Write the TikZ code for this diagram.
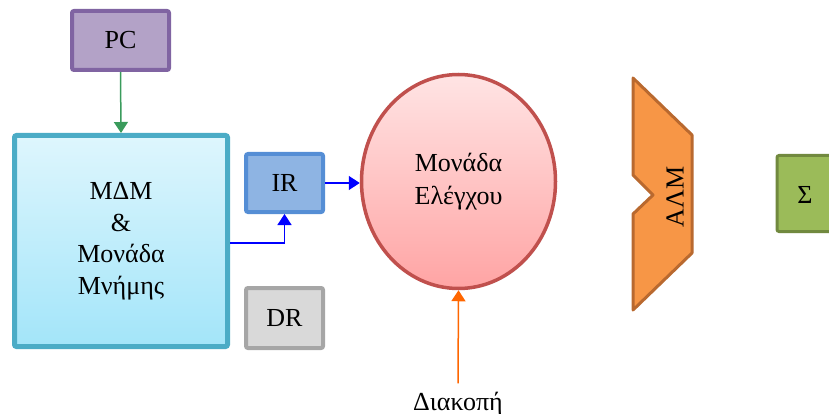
\documentclass[tikz,border=0pt]{standalone}
\usepackage{fontspec}
\setmainfont{Liberation Serif}
\usetikzlibrary{arrows.meta,shadows,shapes.geometric}

\definecolor{pcfill}{HTML}{B3A2C7}
\definecolor{pcline}{HTML}{8064A2}
\definecolor{memline}{HTML}{4BACC6}
\definecolor{memtop}{HTML}{DEF6FD}
\definecolor{membot}{HTML}{A3E5F9}
\definecolor{irfill}{HTML}{8EB4E3}
\definecolor{irline}{HTML}{558ED5}
\definecolor{drfill}{HTML}{D9D9D9}
\definecolor{drline}{HTML}{A6A6A6}
\definecolor{culine}{HTML}{C0504D}
\definecolor{cutop}{HTML}{FFE4E4}
\definecolor{cubot}{HTML}{FFA4A4}
\definecolor{alufill}{HTML}{F79646}
\definecolor{aluline}{HTML}{B9692F}
\definecolor{accfill}{HTML}{9BBB59}
\definecolor{accline}{HTML}{71893F}
\definecolor{pcarrow}{HTML}{3A9B5C}
\definecolor{busblue}{HTML}{0000FF}
\definecolor{intorange}{HTML}{FF6600}

\tikzset{
  unit/.style={rectangle, rounded corners=2pt, inner sep=0pt,
    font=\fontsize{26}{31.5}\selectfont, align=center,
    drop shadow={opacity=0.18, shadow xshift=1pt, shadow yshift=-1.5pt}},
  link/.style={line width=1.5pt, -{Triangle[length=11pt,width=14pt]}},
  caption/.style={font=\fontsize{26}{31.5}\selectfont, inner sep=2pt}
}

\begin{document}
\begin{tikzpicture}[x=1pt, y=-1pt]
  \clip (0,0) rectangle (829,414);

  % registers and memory
  \node[unit, draw=pcline, line width=4pt, fill=pcfill,
        minimum width=97pt, minimum height=59pt] (pc) at (120.5,40.5) {PC};
  \node[unit, draw=memline, line width=5pt, top color=memtop, bottom color=membot,
        minimum width=213pt, minimum height=211pt] (mem) at (121,241)
        {ΜΔΜ\\\&\\Μονάδα\\Μνήμης};
  \node[unit, draw=irline, line width=4pt, fill=irfill,
        minimum width=77pt, minimum height=58pt] (ir) at (284.5,183) {IR};
  \node[unit, draw=drline, line width=4pt, fill=drfill,
        minimum width=77pt, minimum height=60pt] (dr) at (284.5,318) {DR};

  % control unit
  \node[ellipse, draw=culine, line width=3.5pt, top color=cutop, bottom color=cubot,
        minimum width=194pt, minimum height=214pt, inner sep=0pt, align=center,
        font=\fontsize{26}{33}\selectfont,
        drop shadow={opacity=0.18, shadow xshift=1pt, shadow yshift=-1.5pt}]
        (cu) at (458.5,181.5) {Μονάδα\\Ελέγχου};

  % arithmetic-logic unit
  \draw[draw=aluline, fill=alufill, line width=3pt, line join=round]
    (633,78) -- (692,135) -- (692,253) -- (633,310) -- (633,214)
    -- (653,195) -- (633,175) -- cycle;
  \node[rotate=90, font=\fontsize{26}{31.5}\selectfont] (alu) at (675,197) {ΑΛΜ};

  % accumulator
  \node[unit, draw=accline, line width=3pt, fill=accfill,
        minimum width=60pt, minimum height=76pt] (acc) at (807,193.5) {};
  \node[font=\fontsize{26}{31.5}\selectfont] (accl) at (805,195) {Σ};

  % interrupt input
  \node[caption, anchor=base] (intr) at (458,410) {Διακοπή};

  % connectors
  \draw[link, pcarrow] (pc.south) -- (mem.north);
  \draw[link, busblue] ([yshift=-2pt]mem.east) -| (ir.south);
  \draw[link, busblue] (ir.east) -- (ir.east -| cu.west);
  \draw[link, intorange] ([yshift=6pt]intr.north) -- (cu.south);
\end{tikzpicture}
\end{document}
